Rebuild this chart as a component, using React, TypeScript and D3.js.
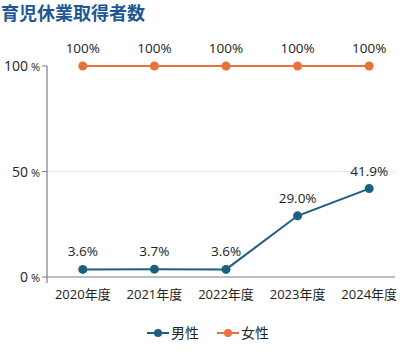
import { useEffect, useRef } from "react";
import * as d3 from "d3";

const years = ["2020年度", "2021年度", "2022年度", "2023年度", "2024年度"];
const maleValues = [3.6, 3.7, 3.6, 29.0, 41.9];
const femaleValues = [100, 100, 100, 100, 100];
const maleLabels = ["3.6%", "3.7%", "3.6%", "29.0%", "41.9%"];
const femaleLabels = ["100%", "100%", "100%", "100%", "100%"];
const yTicks = [0, 50, 100];

const FONT = "'Open Sans', 'Noto Sans CJK JP', sans-serif";
const MALE = "#1b5f83";
const FEMALE = "#e8733a";

export default function App() {
  const svgRef = useRef<SVGSVGElement>(null);

  useEffect(() => {
    if (!svgRef.current) return;
    const svg = d3.select(svgRef.current);
    svg.selectAll("*").remove();

    const left = 47;
    const axisRight = 395;
    const bottom = 277;

    const x = d3.scalePoint<string>().domain(years).range([47, 405]).padding(0.5);
    const y = d3.scaleLinear().domain([0, 100]).range([bottom, 66]);

    // title
    svg
      .append("text")
      .attr("x", 1)
      .attr("y", 20)
      .attr("fill", "#1d5796")
      .attr("font-family", "'Noto Sans CJK JP', sans-serif")
      .attr("font-size", "18px")
      .attr("font-weight", "700")
      .text("育児休業取得者数");

    // grid
    svg
      .append("line")
      .attr("x1", left)
      .attr("x2", axisRight)
      .attr("y1", y(50))
      .attr("y2", y(50))
      .attr("stroke", "#e8e8e8");

    // y axis
    svg
      .append("line")
      .attr("x1", left)
      .attr("x2", left)
      .attr("y1", y(100))
      .attr("y2", bottom + 6)
      .attr("stroke", "#7f7f7f")
      .attr("stroke-width", 1.2);

    svg
      .append("line")
      .attr("x1", left)
      .attr("x2", axisRight)
      .attr("y1", bottom)
      .attr("y2", bottom)
      .attr("stroke", "#7f7f7f")
      .attr("stroke-width", 1.2);

    const yt = svg.append("g").selectAll("g").data(yTicks).enter().append("g");
    yt.append("line")
      .attr("x1", left - 5)
      .attr("x2", left)
      .attr("y1", (d) => y(d))
      .attr("y2", (d) => y(d))
      .attr("stroke", "#7f7f7f");
    const ytText = yt
      .append("text")
      .attr("x", 40)
      .attr("y", (d) => y(d) + 5)
      .attr("text-anchor", "end")
      .attr("font-family", FONT)
      .attr("font-size", "14px")
      .attr("fill", "#222");
    ytText.append("tspan").text((d) => String(d));
    ytText.append("tspan").attr("font-size", "11px").attr("dx", 3).text("%");

    // x labels
    svg
      .append("g")
      .selectAll("text")
      .data(years)
      .enter()
      .append("text")
      .attr("x", (d) => x(d) ?? 0)
      .attr("y", 299)
      .attr("text-anchor", "middle")
      .attr("font-family", FONT)
      .attr("font-size", "13px")
      .attr("fill", "#222")
      .text((d) => d);

    const series = [
      { values: femaleValues, labels: femaleLabels, color: FEMALE },
      { values: maleValues, labels: maleLabels, color: MALE },
    ];

    const line = d3
      .line<number>()
      .x((_, i) => x(years[i]) ?? 0)
      .y((d) => y(d));

    series.forEach((s) => {
      svg
        .append("path")
        .attr("d", line(s.values))
        .attr("fill", "none")
        .attr("stroke", s.color)
        .attr("stroke-width", 2);
      svg
        .append("g")
        .selectAll("circle")
        .data(s.values)
        .enter()
        .append("circle")
        .attr("cx", (_, i) => x(years[i]) ?? 0)
        .attr("cy", (d) => y(d))
        .attr("r", 4.5)
        .attr("fill", s.color);
      svg
        .append("g")
        .selectAll("text")
        .data(s.values)
        .enter()
        .append("text")
        .attr("x", (_, i) => x(years[i]) ?? 0)
        .attr("y", (d) => y(d) - 13)
        .attr("text-anchor", "middle")
        .attr("font-family", FONT)
        .attr("font-size", "13.5px")
        .attr("fill", "#222")
        .text((_, i) => s.labels[i]);
    });

    // legend
    const legend = [
      { name: "男性", color: MALE, x: 147 },
      { name: "女性", color: FEMALE, x: 217 },
    ];
    const lg = svg.append("g").selectAll("g").data(legend).enter().append("g");
    lg.append("line")
      .attr("x1", (d) => d.x)
      .attr("x2", (d) => d.x + 22)
      .attr("y1", 333)
      .attr("y2", 333)
      .attr("stroke", (d) => d.color)
      .attr("stroke-width", 2);
    lg.append("circle")
      .attr("cx", (d) => d.x + 11)
      .attr("cy", 333)
      .attr("r", 4)
      .attr("fill", (d) => d.color);
    lg.append("text")
      .attr("x", (d) => d.x + 24)
      .attr("y", 338)
      .attr("font-family", FONT)
      .attr("font-size", "14px")
      .attr("fill", "#222")
      .text((d) => d.name);
  }, []);

  return (
    <div style={{ position: "absolute", left: 0, top: 0, width: 410, height: 352, background: "#fff" }}>
      <svg ref={svgRef} width={410} height={352} style={{ display: "block" }} />
    </div>
  );
}
